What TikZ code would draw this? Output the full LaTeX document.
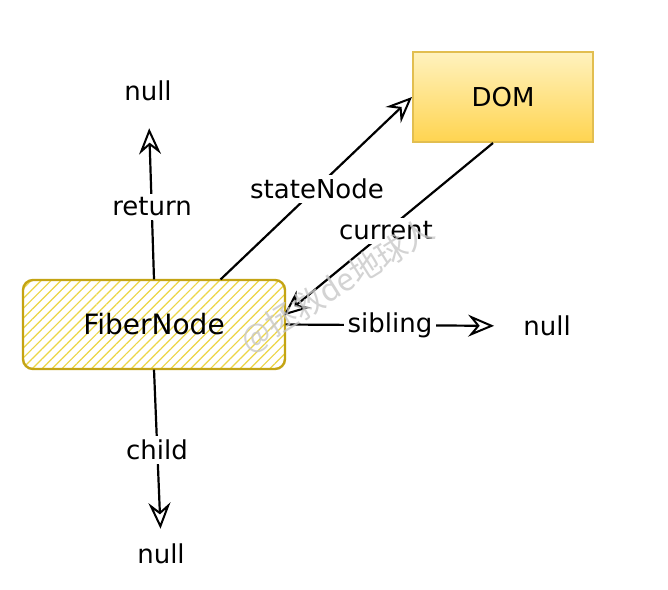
\documentclass[tikz,border=0pt]{standalone}
\usepackage{fontspec}
\setmainfont{DejaVu Sans}
\newfontfamily\cjk{Noto Sans CJK SC}
\usetikzlibrary{arrows.meta,patterns.meta,calc}
\definecolor{hatch}{RGB}{236,214,70}
\definecolor{fibborder}{RGB}{196,164,20}
\definecolor{domtop}{RGB}{255,242,190}
\definecolor{dombot}{RGB}{255,212,80}
\definecolor{domborder}{RGB}{226,190,80}
\definecolor{wmgray}{RGB}{200,200,200}
\begin{document}
\begin{tikzpicture}[x=1pt,y=-1pt,
  txt/.style={font=\fontsize{26}{30}\selectfont, text=black, inner sep=3pt},
  lab/.style={txt, fill=white, inner sep=4pt},
  arr/.style={draw=black, line width=2.2pt, -{Stealth[open,length=26pt,width=22pt,inset=9pt,line width=2pt]}}]
\useasboundingbox (0,0) rectangle (668,589);
\fill[white] (0,0) rectangle (668,589);

% nodes
\node[draw=fibborder, line width=2.4pt, rounded corners=10pt,
      minimum width=262pt, minimum height=89pt,
      pattern={Lines[angle=45,distance=7pt,line width=1.2pt]}, pattern color=hatch,
      txt, font=\fontsize{28}{32}\selectfont] (fiber) at (154,324.5) {FiberNode};
\node[draw=domborder, line width=2pt, minimum width=180pt, minimum height=90pt,
      top color=domtop, bottom color=dombot, txt] (dom) at (503,97) {DOM};
\node[txt] (nullT) at (148,91) {null};
\node[txt] (nullR) at (547,326) {null};
\node[txt] (nullB) at (161,554) {null};

% connectors
\draw[arr, shorten >=24pt] (fiber.north) -- (nullT);
\draw[arr] ($(fiber.north east)+(-65,0)$) -- (dom.west);
\draw[arr] ($(dom.south)+(-10,0)$) -- ($(fiber.east)+(-2,-9)$);
\draw[arr, shorten >=26pt] (fiber.east) -- (nullR.west);
\draw[arr, shorten >=12pt] (fiber.south) -- (nullB.north);

% labels
\node[lab] (lret) at (152,207) {return};
\node[lab] (lstate) at (317,189) {stateNode};
\node[lab] (lcur) at (386,231) {current};
\node[lab] (lsib) at (390,325) {sibling};
\node[lab] (lchild) at (157,450) {child};

% watermark
\node[text=wmgray, opacity=0.8, rotate=32, font=\cjk\fontsize{31}{34}\selectfont] (wm) at (338,286) {@拯救de地球人};
\end{tikzpicture}
\end{document}
